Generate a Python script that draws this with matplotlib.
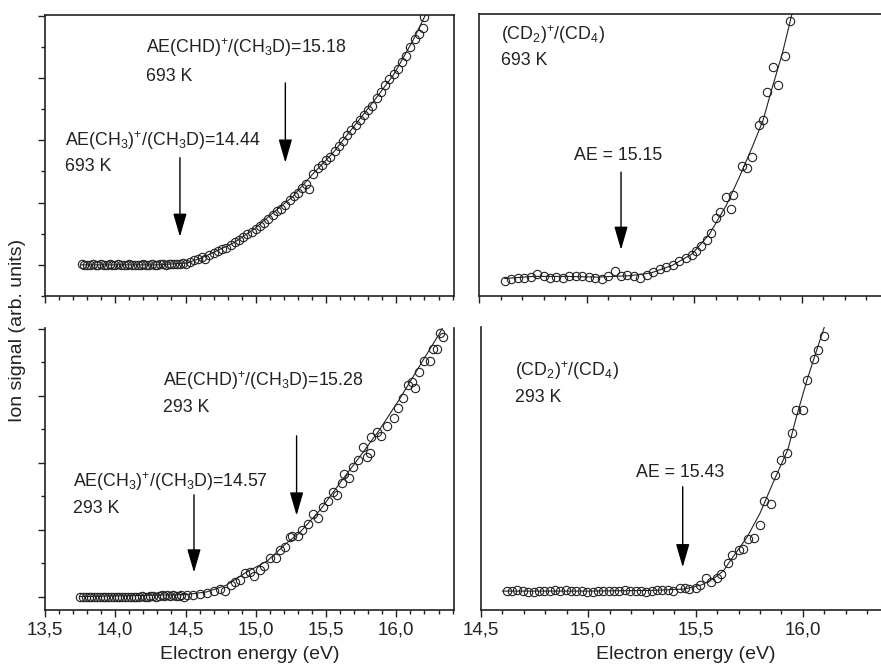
import numpy as np
import matplotlib
matplotlib.use("Agg")
from matplotlib import pyplot as plt
from matplotlib.ticker import MultipleLocator, FuncFormatter, NullFormatter

plt.rcParams['font.family'] = ['Liberation Sans', 'DejaVu Sans']
plt.rcParams['mathtext.fontset'] = 'custom'
plt.rcParams['mathtext.rm'] = 'Liberation Sans'
plt.rcParams['mathtext.it'] = 'Liberation Sans:italic'

INK = '#222222'

# ---- top left: CH3D, 693 K ----
tl_x = [13.76, 13.78, 13.80, 13.82, 13.84, 13.86, 13.88, 13.90, 13.92, 13.94,
        13.96, 13.98, 14.00, 14.02, 14.04, 14.06, 14.08, 14.10, 14.12, 14.14,
        14.16, 14.18, 14.20, 14.22, 14.24, 14.26, 14.28, 14.30, 14.32, 14.34,
        14.36, 14.38, 14.40, 14.42, 14.44, 14.46, 14.48, 14.50,
        14.53, 14.56, 14.59, 14.62, 14.64, 14.67, 14.70, 14.73, 14.76, 14.79,
        14.82, 14.85, 14.88, 14.91, 14.94, 14.97, 15.00, 15.03, 15.06, 15.09,
        15.12, 15.15, 15.18, 15.21, 15.24, 15.27, 15.30, 15.33, 15.36, 15.38,
        15.41, 15.44, 15.47, 15.50, 15.53, 15.56, 15.59, 15.62, 15.65, 15.68,
        15.71, 15.74, 15.77, 15.80, 15.83, 15.86, 15.89, 15.92, 15.95, 15.98,
        16.01, 16.04, 16.07, 16.10, 16.13, 16.16, 16.19, 16.20]
tl_y = [0.01, -0.01, 0.00, 0.00, 0.01, 0.00, 0.00, 0.01, 0.00, 0.00,
        0.01, 0.00, 0.00, 0.01, 0.00, 0.00, 0.00, 0.01, 0.00, -0.01,
        0.00, 0.00, 0.01, 0.00, 0.00, 0.01, 0.00, 0.00, 0.01, 0.01,
        0.00, 0.01, 0.01, 0.02, 0.02, 0.01, 0.03, 0.02,
        0.05, 0.07, 0.09, 0.12, 0.10, 0.16, 0.19, 0.22, 0.25, 0.27,
        0.32, 0.37, 0.40, 0.44, 0.49, 0.53, 0.58, 0.63, 0.67, 0.74,
        0.80, 0.86, 0.90, 0.96, 1.04, 1.10, 1.16, 1.24, 1.30, 1.22,
        1.46, 1.55, 1.60, 1.68, 1.73, 1.83, 1.90, 1.98, 2.08, 2.16,
        2.25, 2.32, 2.40, 2.49, 2.55, 2.68, 2.78, 2.88, 2.98, 3.06,
        3.15, 3.25, 3.35, 3.50, 3.62, 3.70, 3.80, 3.98]
tl_fit_x = [13.76, 14.30, 14.51, 14.60, 14.69, 14.84, 14.98, 15.12, 15.26,
            15.41, 15.55, 15.69, 15.83, 15.98, 16.12, 16.20, 16.23]
tl_fit_y = [0.00, 0.00, 0.03, 0.10, 0.19, 0.35, 0.56, 0.83, 1.09,
            1.47, 1.80, 2.20, 2.60, 3.05, 3.61, 3.98, 4.12]

# ---- top right: CD4, 693 K ----
tr_x = [14.62, 14.65, 14.68, 14.71, 14.74, 14.77, 14.80, 14.83, 14.86, 14.89,
        14.92, 14.95, 14.98, 15.01, 15.04, 15.07, 15.10, 15.13, 15.16, 15.19,
        15.22, 15.25, 15.28, 15.31,
        15.34, 15.37, 15.40, 15.43, 15.46, 15.49, 15.51, 15.53, 15.56, 15.58,
        15.60, 15.62, 15.65, 15.67, 15.68, 15.72, 15.745, 15.77, 15.80, 15.82,
        15.84, 15.865, 15.89, 15.92, 15.945]
tr_y = [0.22, 0.25, 0.26, 0.26, 0.27, 0.31, 0.28, 0.26, 0.27, 0.26,
        0.28, 0.29, 0.28, 0.27, 0.26, 0.25, 0.28, 0.36, 0.28, 0.30,
        0.29, 0.26, 0.30, 0.34,
        0.38, 0.42, 0.44, 0.50, 0.55, 0.58, 0.65, 0.72, 0.80, 0.90,
        1.11, 1.20, 1.41, 1.25, 1.45, 1.86, 1.83, 1.99, 2.44, 2.51,
        2.92, 3.27, 3.01, 3.43, 3.93]
tr_fit_x = [14.62, 14.75, 14.90, 15.05, 15.20, 15.30, 15.40, 15.49, 15.57,
            15.65, 15.71, 15.77, 15.82, 15.86, 15.91, 15.96]
tr_fit_y = [0.25, 0.28, 0.28, 0.27, 0.29, 0.33, 0.44, 0.60, 0.88,
            1.30, 1.70, 2.13, 2.51, 2.95, 3.47, 4.10]

# ---- bottom left: CH3D, 293 K ----
bl_x = [13.75, 13.77, 13.79, 13.81, 13.83, 13.85, 13.87, 13.89, 13.91, 13.93,
        13.95, 13.97, 13.99, 14.01, 14.03, 14.05, 14.07, 14.09, 14.11, 14.13,
        14.15, 14.17, 14.19, 14.21, 14.23, 14.25, 14.27, 14.29, 14.31, 14.33,
        14.35, 14.37, 14.39, 14.41, 14.43, 14.45, 14.47, 14.49, 14.51,
        14.55, 14.60, 14.65, 14.70, 14.745, 14.78, 14.82, 14.85, 14.89, 14.92,
        14.96, 14.99, 15.03, 15.06, 15.10, 15.14, 15.17, 15.21, 15.24, 15.26,
        15.30, 15.33, 15.37, 15.41, 15.44, 15.48, 15.51, 15.55, 15.58, 15.61,
        15.63, 15.66, 15.69, 15.73, 15.76, 15.79, 15.81, 15.82, 15.86, 15.89,
        15.93, 15.98, 16.01, 16.05, 16.08, 16.11, 16.13, 16.16, 16.20, 16.24,
        16.26, 16.29, 16.31, 16.33]
bl_y = [0.00, 0.00, 0.00, 0.00, 0.00, 0.00, 0.00, 0.00, 0.00, 0.00,
        0.00, 0.00, 0.00, 0.00, 0.00, 0.00, 0.00, 0.00, 0.00, 0.00,
        0.00, 0.00, 0.01, 0.00, 0.00, 0.01, 0.01, 0.00, 0.01, 0.02,
        0.01, 0.02, 0.01, 0.02, 0.01, 0.01, 0.02, 0.00, 0.03,
        0.03, 0.04, 0.06, 0.08, 0.11, 0.09, 0.17, 0.22, 0.25, 0.35,
        0.36, 0.31, 0.40, 0.46, 0.57, 0.57, 0.69, 0.74, 0.89, 0.90,
        0.90, 0.99, 1.09, 1.23, 1.17, 1.34, 1.42, 1.56, 1.52, 1.69,
        1.83, 1.77, 1.94, 2.04, 2.24, 2.09, 2.14, 2.39, 2.46, 2.40,
        2.54, 2.66, 2.81, 2.96, 3.16, 3.21, 3.11, 3.36, 3.51, 3.51,
        3.69, 3.70, 3.93, 3.88]
bl_fit_x = [13.75, 14.50, 14.65, 14.79, 14.93, 15.08, 15.22, 15.31, 15.46,
            15.60, 15.74, 15.88, 16.02, 16.17, 16.31, 16.35]
bl_fit_y = [0.00, 0.03, 0.07, 0.17, 0.36, 0.53, 0.80, 0.95, 1.30,
            1.70, 2.09, 2.49, 2.94, 3.46, 3.94, 4.10]

# ---- bottom right: CD4, 293 K ----
br_x = [14.62, 14.645, 14.67, 14.695, 14.72, 14.745, 14.77, 14.795, 14.82, 14.845,
        14.87, 14.895, 14.92, 14.945, 14.97, 14.995, 15.02, 15.045, 15.07, 15.095,
        15.12, 15.145, 15.17, 15.195, 15.22, 15.245, 15.27, 15.295, 15.32, 15.345,
        15.37, 15.395,
        15.427, 15.45, 15.47, 15.50, 15.52, 15.55, 15.57, 15.60, 15.62, 15.65,
        15.67, 15.70, 15.72, 15.745, 15.77, 15.80, 15.82, 15.85, 15.87, 15.90,
        15.925, 15.95, 15.97, 16.00, 16.02, 16.05, 16.07, 16.10]
br_y = [0.27, 0.27, 0.28, 0.27, 0.26, 0.26, 0.27, 0.27, 0.27, 0.28,
        0.27, 0.28, 0.27, 0.27, 0.27, 0.26, 0.26, 0.27, 0.27, 0.27,
        0.27, 0.27, 0.28, 0.27, 0.27, 0.27, 0.26, 0.27, 0.28, 0.28,
        0.28, 0.27,
        0.32, 0.32, 0.30, 0.32, 0.35, 0.45, 0.40, 0.45, 0.52, 0.67,
        0.79, 0.85, 0.87, 1.02, 1.03, 1.22, 1.56, 1.51, 1.93, 2.14,
        2.24, 2.52, 2.85, 2.85, 3.29, 3.59, 3.71, 3.91]
br_fit_x = [14.60, 15.00, 15.30, 15.45, 15.53, 15.58, 15.63, 15.67, 15.74,
            15.80, 15.86, 15.93, 15.97, 16.02, 16.06, 16.10, 16.12]
br_fit_y = [0.27, 0.27, 0.28, 0.30, 0.36, 0.44, 0.56, 0.74, 1.04,
            1.38, 1.81, 2.29, 2.76, 3.29, 3.67, 4.04, 4.30]

W, H = 881, 669
fig = plt.figure(figsize=(W / 100, H / 100), dpi=100)

def box(l, t, r, b):
    return [l / W, 1 - b / H, (r - l) / W, (b - t) / H]

ax_tl = fig.add_axes(box(45, 15, 454, 296))
ax_tr = fig.add_axes(box(479, 14, 890, 296))
ax_bl = fig.add_axes(box(45, 328, 454, 610))
ax_br = fig.add_axes(box(481, 327, 890, 610))

comma = FuncFormatter(lambda v, p: f"{v:.1f}".replace('.', ','))

def style(ax, xlim, ylim, yticks=True, top=True, right=True, xlabels=False):
    ax.set_xlim(*xlim)
    ax.set_ylim(*ylim)
    for s in ax.spines.values():
        s.set_linewidth(1.2)
        s.set_color(INK)
    ax.spines['top'].set_visible(top)
    ax.spines['right'].set_visible(right)
    ax.xaxis.set_major_locator(MultipleLocator(0.5))
    ax.xaxis.set_minor_locator(MultipleLocator(0.1))
    ax.tick_params(which='both', direction='out', color=INK, width=1,
                   top=False, right=False, labelsize=13.5, labelcolor=INK, pad=3)
    ax.tick_params(which='major', length=5)
    ax.tick_params(which='minor', length=3)
    if xlabels:
        ax.xaxis.set_major_formatter(comma)
        ax.set_xlabel('Electron energy (eV)', fontsize=14, color=INK, labelpad=6)
    else:
        ax.xaxis.set_major_formatter(NullFormatter())
    if yticks:
        ax.yaxis.set_major_locator(MultipleLocator(1))
        ax.yaxis.set_minor_locator(MultipleLocator(0.5))
        ax.yaxis.set_major_formatter(NullFormatter())
    else:
        ax.set_yticks([])

def draw(ax, x, y, fx, fy):
    ax.plot(fx, fy, '-', color=INK, lw=0.8, zorder=2)
    ax.plot(x, y, 'o', ms=6, mfc='none', mec=INK, mew=0.8, zorder=3)

def arrow(ax, x, y0, y1):
    ax.annotate('', xy=(x, y1), xytext=(x, y0),
                arrowprops=dict(arrowstyle='-|>,head_length=0.9,head_width=0.26',
                                color='black', lw=1.0, mutation_scale=16,
                                shrinkA=0, shrinkB=0))

def label(ax, x, y, s):
    ax.text(x, y, s, fontsize=12.8, color=INK, ha='left', va='center')

style(ax_tl, (13.5, 16.41), (-0.5, 4.01))
draw(ax_tl, tl_x, tl_y, tl_fit_x, tl_fit_y)
label(ax_tl, 14.22, 3.49, r'AE(CHD)$^{+}$/(CH$_{3}$D)=15.18')
label(ax_tl, 14.22, 3.02, '693 K')
arrow(ax_tl, 15.21, 2.92, 1.64)
label(ax_tl, 13.64, 2.00, r'AE(CH$_{3}$)$^{+}$/(CH$_{3}$D)=14.44')
label(ax_tl, 13.64, 1.58, '693 K')
arrow(ax_tl, 14.46, 1.72, 0.45)

style(ax_tr, (14.5, 16.41), (0, 4.03), yticks=False, right=False)
draw(ax_tr, tr_x, tr_y, tr_fit_x, tr_fit_y)
label(ax_tr, 14.60, 3.74, r'(CD$_{2}$)$^{+}$/(CD$_{4}$)')
label(ax_tr, 14.60, 3.37, '693 K')
label(ax_tr, 14.94, 2.01, 'AE = 15.15')
arrow(ax_tr, 15.16, 1.77, 0.66)

style(ax_bl, (13.5, 16.41), (-0.2, 4.01), top=False, xlabels=True)
draw(ax_bl, bl_x, bl_y, bl_fit_x, bl_fit_y)
label(ax_bl, 14.34, 3.22, r'AE(CHD)$^{+}$/(CH$_{3}$D)=15.28')
label(ax_bl, 14.34, 2.82, '293 K')
arrow(ax_bl, 15.29, 2.40, 1.21)
label(ax_bl, 13.70, 1.72, r'AE(CH$_{3}$)$^{+}$/(CH$_{3}$D)=14.57')
label(ax_bl, 13.70, 1.31, '293 K')
arrow(ax_bl, 14.56, 1.52, 0.36)

style(ax_br, (14.5, 16.406), (0, 4.04), yticks=False, top=False, right=False,
      xlabels=True)
draw(ax_br, br_x, br_y, br_fit_x, br_fit_y)
label(ax_br, 14.66, 3.41, r'(CD$_{2}$)$^{+}$/(CD$_{4}$)')
label(ax_br, 14.66, 3.03, '293 K')
label(ax_br, 15.22, 1.96, 'AE = 15.43')
arrow(ax_br, 15.44, 1.76, 0.61)

fig.text(18 / W, 1 - 330 / H, 'Ion signal (arb. units)', rotation=90,
         ha='center', va='center', fontsize=14, color=INK)

fig.savefig('out.png', dpi=100)
